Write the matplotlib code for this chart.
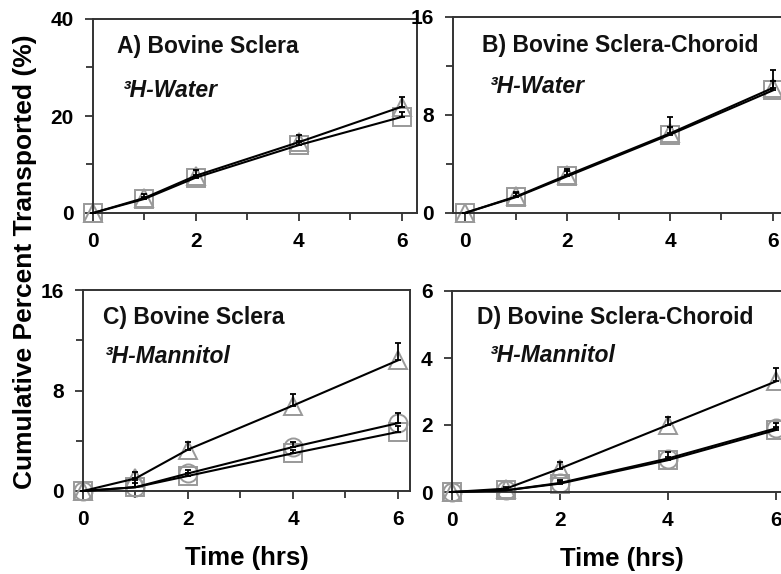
import numpy as np
import matplotlib
matplotlib.use("Agg")
import matplotlib.pyplot as plt
from matplotlib.ticker import MultipleLocator, NullLocator

plt.rcParams['font.family'] = ['Liberation Sans', 'DejaVu Sans']
plt.rcParams['font.weight'] = 'bold'

# time points (hrs)
t = [0, 1, 2, 4, 6]

# A) sclera, 3H-water
a_sq = [0, 2.9, 7.3, 14.0, 19.8]
a_sq_err = [0, 0.4, 0.6, 0.8, 1.0]
a_tri = [0, 3.1, 7.7, 14.6, 21.9]
a_tri_err = [0, 0.8, 1.1, 1.4, 2.0]

# B) sclera-choroid, 3H-water
b_sq = [0, 1.3, 3.0, 6.4, 10.0]
b_sq_err = [0, 0.3, 0.4, 0.6, 0.8]
b_tri = [0, 1.35, 3.1, 6.5, 10.2]
b_tri_err = [0, 0.4, 0.5, 1.3, 1.5]

# C) sclera, 3H-mannitol
c_tri = [0, 1.0, 3.3, 6.8, 10.4]
c_tri_err = [0, 0.5, 0.6, 0.9, 1.4]
c_circ = [0, 0.3, 1.4, 3.5, 5.4]
c_circ_err = [0, 0.6, 0.3, 0.4, 0.8]
c_sq = [0, 0.3, 1.2, 3.0, 4.7]
c_sq_err = [0, 0.3, 0.2, 0.3, 0.5]

# D) sclera-choroid, 3H-mannitol
d_tri = [0, 0.1, 0.7, 2.0, 3.3]
d_tri_err = [0, 0.05, 0.2, 0.25, 0.4]
d_circ = [0, 0.05, 0.27, 1.0, 1.9]
d_circ_err = [0, 0.05, 0.1, 0.2, 0.15]
d_sq = [0, 0.05, 0.25, 0.95, 1.85]
d_sq_err = [0, 0.03, 0.08, 0.1, 0.1]

W, H = 781, 574
fig = plt.figure(figsize=(W / 100, H / 100), dpi=100)


def make_axes(left, top, right, bottom):
    return fig.add_axes([left / W, 1 - bottom / H, (right - left) / W, (bottom - top) / H])


def draw_series(ax, y, err, marker, ms):
    ax.plot(t, y, linestyle='none', marker=marker, ms=ms, mfc='none',
            mec='#999999', mew=1.4, zorder=2, clip_on=False)
    ax.plot(t, y, color='black', lw=1.5, zorder=3, clip_on=False)
    ax.errorbar(t, y, yerr=[np.zeros(len(err)), err], fmt='none', ecolor='black',
                elinewidth=1.3, capsize=2, capthick=1.3, zorder=4, clip_on=False)


def style(ax, xlim, ymax, ymajor, yminor, xminor=True):
    ax.set_xlim(*xlim)
    ax.set_ylim(0, ymax)
    ax.set_xticks([0, 2, 4, 6])
    ax.yaxis.set_major_locator(MultipleLocator(ymajor))
    if xminor:
        ax.set_xticks([1, 3, 5], minor=True)
    if yminor:
        ax.yaxis.set_minor_locator(MultipleLocator(yminor))
    else:
        ax.yaxis.set_minor_locator(NullLocator())
    for s in ax.spines.values():
        s.set_color('#333333')
        s.set_linewidth(1.4)
    ax.tick_params(which='both', direction='out', color='#333333', width=1.3)
    ax.tick_params(which='major', length=6, labelsize=15, pad=8)
    ax.tick_params(which='minor', length=5)
    for lab in ax.get_xticklabels() + ax.get_yticklabels():
        lab.set_fontweight('bold')


def labels(ax, title, sub, tx, ty, sx, sy):
    ax.text(tx, ty, title, transform=ax.transAxes, fontsize=16.5,
            fontweight='bold', va='center', ha='left', color='#111111')
    ax.text(sx, sy, sub, transform=ax.transAxes, fontsize=16.5,
            fontweight='bold', style='italic', va='center', ha='left', color='#111111')


# panel A
axA = make_axes(93, 19, 417, 213)
draw_series(axA, a_sq, a_sq_err, 's', 13)
draw_series(axA, a_tri, a_tri_err, '^', 13)
style(axA, (0, 6.3), 40, 20, 10)
labels(axA, 'A) Bovine Sclera', '³H-Water', 0.074, 0.856, 0.093, 0.63)

# panel B
axB = make_axes(453, 17, 788, 213)
draw_series(axB, b_sq, b_sq_err, 's', 13)
draw_series(axB, b_tri, b_tri_err, '^', 13)
style(axB, (-0.23, 6.3), 16, 8, 4)
labels(axB, 'B) Bovine Sclera-Choroid', '³H-Water', 0.087, 0.857, 0.11, 0.645)

# panel C
axC = make_axes(83, 290, 410, 491)
draw_series(axC, c_sq, c_sq_err, 's', 13)
draw_series(axC, c_circ, c_circ_err, 'o', 13)
draw_series(axC, c_tri, c_tri_err, '^', 13)
style(axC, (0, 6.23), 16, 8, 4)
labels(axC, 'C) Bovine Sclera', '³H-Mannitol', 0.061, 0.861, 0.067, 0.67)
axC.set_xlabel('Time (hrs)', fontsize=18.5, fontweight='bold', labelpad=12)

# panel D
axD = make_axes(452, 291, 792, 492)
draw_series(axD, d_sq, d_sq_err, 's', 13)
draw_series(axD, d_circ, d_circ_err, 'o', 13)
draw_series(axD, d_tri, d_tri_err, '^', 13)
style(axD, (0, 6.3), 6, 2, None, xminor=False)
labels(axD, 'D) Bovine Sclera-Choroid', '³H-Mannitol', 0.074, 0.87, 0.112, 0.68)
axD.set_xlabel('Time (hrs)', fontsize=18.5, fontweight='bold', labelpad=12)

fig.text(25 / W, 1 - 262 / H, 'Cumulative Percent Transported (%)', rotation=90,
         fontsize=19, fontweight='bold', ha='center', va='center')

fig.savefig('out.png', dpi=100)
